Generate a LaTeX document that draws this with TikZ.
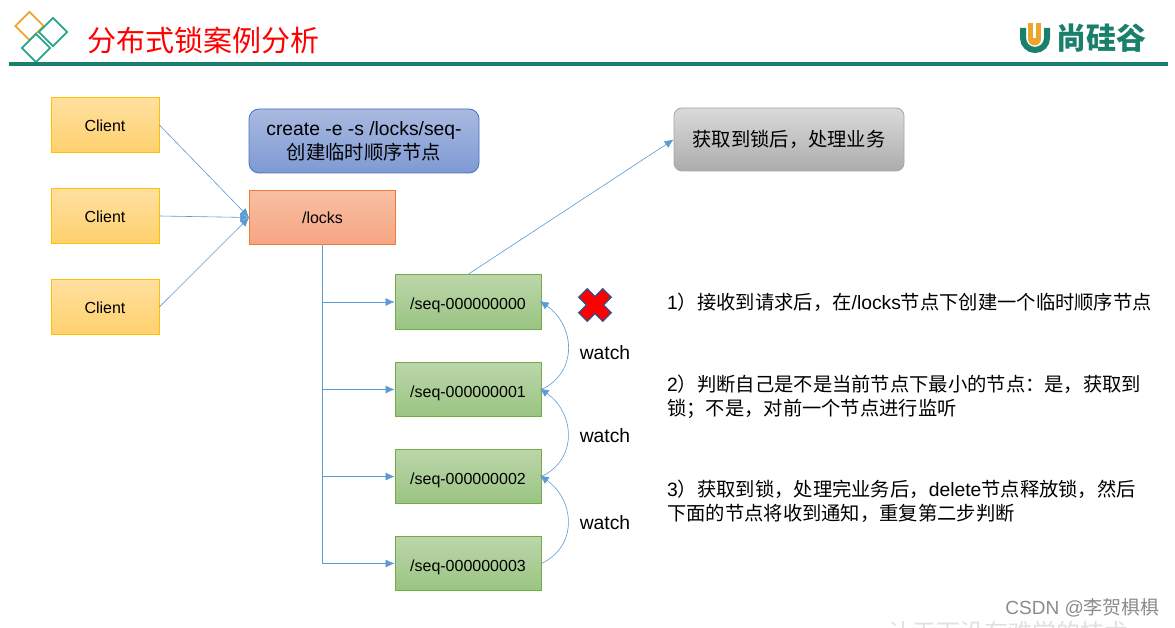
\documentclass[tikz,border=0pt]{standalone}
\usepackage{fontspec}
\setmainfont{Liberation Sans}
\newfontfamily\cjk{Noto Sans CJK SC}
\newcommand{\cn}[1]{{\cjk #1}}
\usepackage{tikz}
\usetikzlibrary{shapes.geometric, arrows.meta, positioning}
\definecolor{teal1}{HTML}{1A7F6B}
\definecolor{teal2}{HTML}{2AA58C}
\definecolor{logoorange}{HTML}{EDA62C}
\definecolor{linkblue}{HTML}{5B9BD5}
\definecolor{clientline}{HTML}{FFC000}
\definecolor{clienttop}{HTML}{FFE0A0}
\definecolor{clientbot}{HTML}{FFD16E}
\definecolor{seqline}{HTML}{70AD47}
\definecolor{seqtop}{HTML}{BCD6AA}
\definecolor{seqbot}{HTML}{9AC482}
\definecolor{locksline}{HTML}{ED7D31}
\definecolor{lockstop}{HTML}{F8BFA2}
\definecolor{locksbot}{HTML}{F5A583}
\definecolor{createline}{HTML}{4472C4}
\definecolor{createtop}{HTML}{AABAE0}
\definecolor{createbot}{HTML}{7E9AD4}
\definecolor{doneline}{HTML}{A5A5A5}
\definecolor{donetop}{HTML}{DADADA}
\definecolor{donebot}{HTML}{ACACAC}
\tikzset{
  box/.style={draw, thick, minimum width=146pt, minimum height=54.5pt, inner sep=0pt, align=center},
  clientbox/.style={box, minimum width=108pt, text height=13.5pt, text depth=0pt, draw=clientline, top color=clienttop, bottom color=clientbot},
  seqbox/.style={box, text height=15.4pt, text depth=0pt, draw=seqline, top color=seqtop, bottom color=seqbot},
  bigtext/.style={font=\fontsize{19.3}{24}\selectfont},
  sidetext/.style={bigtext, anchor=west, align=left, inner sep=0pt},
  diamondbox/.style={draw, diamond, line width=1.8pt, minimum width=29pt, minimum height=29pt, inner sep=0pt}
}
\tikzstyle{link} = [linkblue, semithick, -{Latex[length=9pt,width=8pt]}]
\tikzstyle{watchlink} = [link, shorten >=-2pt]
\begin{document}
\begin{tikzpicture}[x=1pt, y=-1pt, font=\fontsize{16}{19}\selectfont]
            \useasboundingbox (0,0) rectangle (1175,628);
            \fill [white] (0,0) rectangle (1175,628);

            % header
            \node [diamondbox, draw=logoorange] at (29.5,26) (mark1) {};
            \node [diamondbox, draw=teal2] at (53,32) (mark2) {};
            \node [diamondbox, draw=teal2] at (36,48) (mark3) {};
            \node [anchor=west, inner sep=0pt, text=red] at (87,40) (title) {\fontsize{29}{34}\selectfont\cn{分布式锁案例分析}};
            \fill [teal1] (9,62) rectangle (1168,66);

            % logo
            \draw [teal1, line width=6pt] (1023,28) -- (1023,38) arc (180:0:12) -- (1047,28);
            \draw [logoorange, line width=13pt] (1034.5,23) -- (1034.5,39);
            \fill [logoorange] (1034.5,39) circle (6.5);
            \draw [white, line width=2.5pt] (1034.5,23) -- (1034.5,38);
            \node [anchor=west, inner sep=0pt, text=teal1] at (1056,38) (logotext) {\fontsize{30}{34}\selectfont\bfseries\cn{尚硅谷}};

            % clients and lock root
            \node [clientbox] at (105,125) (client1) {Client};
            \node [clientbox] at (105,216) (client2) {Client};
            \node [clientbox] at (105,307) (client3) {Client};
            \node [box, bigtext, minimum width=230pt, minimum height=64pt, rounded corners=10pt,
                   draw=createline, top color=createtop, bottom color=createbot] at (364,141) (create) {create -e -s /locks/seq-\\\cn{创建临时顺序节点}};
            \node [box, draw=locksline, top color=lockstop, bottom color=locksbot] at (322.5,217.5) (locks) {/locks};
            \node [box, bigtext, minimum width=230pt, minimum height=63pt, rounded corners=8pt,
                   draw=doneline, top color=donetop, bottom color=donebot] at (789,139.5) (done) {\cn{获取到锁后，处理业务}};

            % sequence nodes
            \node [seqbox] at (468,302) (seq0) {/seq-000000000};
            \node [seqbox] at (468,389.5) (seq1) {/seq-000000001};
            \node [seqbox] at (468,476.5) (seq2) {/seq-000000002};
            \node [seqbox] at (468,563.5) (seq3) {/seq-000000003};

            \draw [link] (client1.east) -- (locks.west);
            \draw [link] (client2.east) -- (locks.west);
            \draw [link] (client3.east) -- (locks.west);
            \draw [link] (seq0.north) -- (done.west);
            \draw [link] (locks.south) |- (seq0.west);
            \draw [link] (locks.south) |- (seq1.west);
            \draw [link] (locks.south) |- (seq2.west);
            \draw [link] (locks.south) |- (seq3.west);

            \draw [watchlink] (seq1.east) to [out=25, in=-35, looseness=1.2] (seq0.east);
            \draw [watchlink] (seq2.east) to [out=25, in=-35, looseness=1.2] (seq1.east);
            \draw [watchlink] (seq3.east) to [out=25, in=-35, looseness=1.2] (seq2.east);

            \node [bigtext] at (605,353) (watch1) {watch};
            \node [bigtext] at (605,436) (watch2) {watch};
            \node [bigtext] at (605,523) (watch3) {watch};

            % released lock
            \draw [fill=red, draw=createline!70!black, line width=1.2pt, rotate around={45:(595,305)}]
              (589,288) -- (601,288) -- (601,299) -- (612,299) -- (612,311) -- (601,311) -- (601,322) -- (589,322) -- (589,311) -- (578,311) -- (578,299) -- (589,299) -- cycle;

            % steps
            \node [sidetext] at (667,302) (step1) {1\cn{）接收到请求后，在}/locks\cn{节点下创建一个临时顺序节点}};
            \node [sidetext] at (667,396.5) (step2) {2\cn{）判断自己是不是当前节点下最小的节点：是，获取到}\\\cn{锁；不是，对前一个节点进行监听}};
            \node [sidetext] at (667,501) (step3) {3\cn{）获取到锁，处理完业务后，}delete\cn{节点释放锁，然后}\\\cn{下面的节点将收到通知，重复第二步判断}};

            % watermarks
            \node [anchor=west, inner sep=0pt, text=black!12] at (888,632) (slogan) {\fontsize{24}{28}\selectfont\cn{让天下没有难学的技术}};
            \node [anchor=east, inner sep=0pt, text=black!45] at (1160,608) (csdn) {\fontsize{19}{23}\selectfont CSDN @\cn{李贺椇椇}};
\end{tikzpicture}
\end{document}
